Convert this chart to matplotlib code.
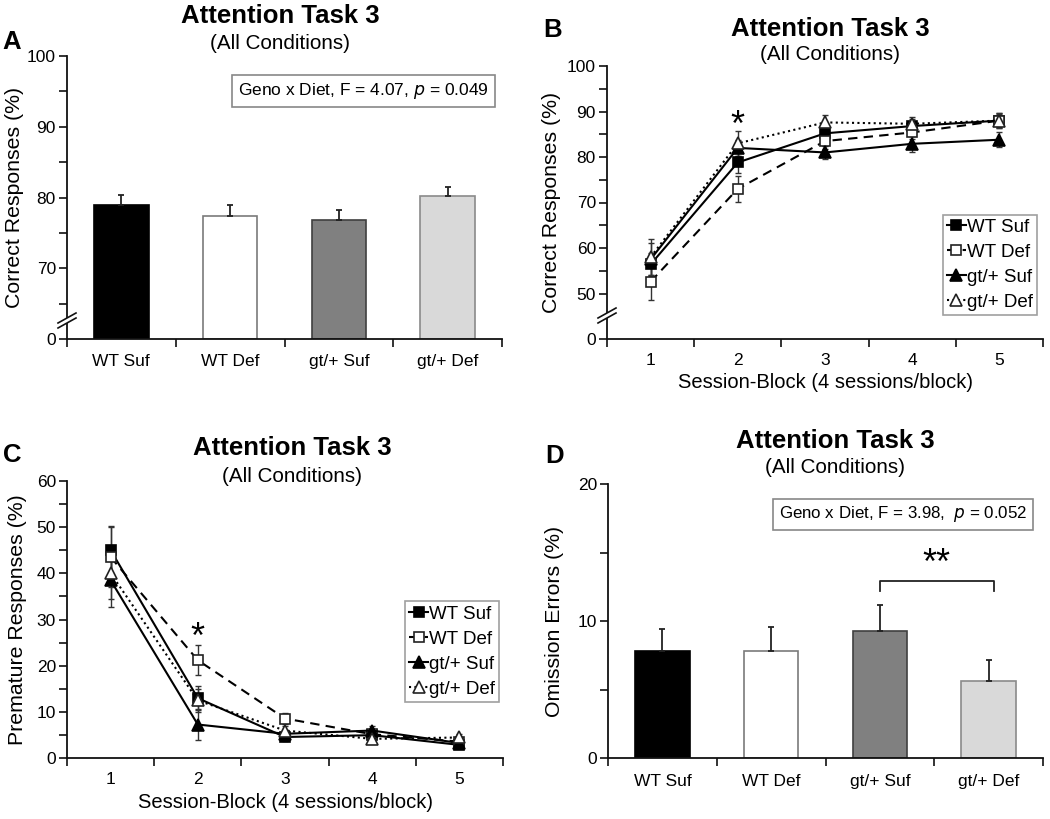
import numpy as np
import matplotlib
matplotlib.use("Agg")
import matplotlib.pyplot as plt
from matplotlib.ticker import FixedLocator, NullFormatter

plt.rcParams['font.family'] = ['Liberation Sans', 'DejaVu Sans']

# ---------------- data ----------------
groups = ["WT Suf", "WT Def", "gt/+ Suf", "gt/+ Def"]
blocks = [1, 2, 3, 4, 5]

# Panel A: correct responses (bars)
a_vals = [79.0, 77.4, 76.8, 80.2]
a_err = [1.4, 1.5, 1.5, 1.3]

# Panel B: correct responses by block
b_wt_suf = [56.4, 78.8, 85.2, 86.8, 88.0]
b_wt_def = [52.6, 73.0, 83.5, 85.4, 88.0]
b_gt_suf = [57.5, 82.0, 81.0, 82.9, 83.8]
b_gt_def = [58.0, 83.0, 87.6, 87.3, 88.0]
b_wt_suf_err = [2.5, 2.3, 1.5, 1.5, 1.5]
b_wt_def_err = [4.0, 2.8, 1.8, 1.5, 1.6]
b_gt_suf_err = [3.5, 1.8, 1.5, 1.7, 1.7]
b_gt_def_err = [4.0, 2.7, 1.6, 1.6, 1.7]

# Panel C: premature responses by block
c_wt_suf = [45.0, 13.0, 4.6, 5.0, 2.9]
c_wt_def = [43.5, 21.2, 8.6, 5.2, 3.6]
c_gt_suf = [38.5, 7.3, 5.3, 6.0, 3.3]
c_gt_def = [40.0, 12.5, 6.0, 4.2, 4.5]
c_wt_suf_err = [5.2, 2.6, 0.8, 0.8, 0.6]
c_wt_def_err = [6.5, 3.2, 1.2, 0.9, 0.7]
c_gt_suf_err = [5.8, 3.3, 0.9, 0.9, 0.6]
c_gt_def_err = [5.5, 2.5, 0.9, 0.8, 0.7]

# Panel D: omission errors (bars)
d_vals = [7.8, 7.85, 9.3, 5.6]
d_err = [1.6, 1.75, 1.85, 1.6]

bar_colors = ["#000000", "#ffffff", "#808080", "#d9d9d9"]
bar_edges = ["#000000", "#7a7a7a", "#404040", "#8a8a8a"]

W, H = 1050, 819
fig = plt.figure(figsize=(W / 100, H / 100), dpi=100)


def ax_at(left, top, right, bottom):
    return fig.add_axes([left / W, 1 - bottom / H, (right - left) / W, (bottom - top) / H])


def style_axes(ax):
    for s in ["top", "right"]:
        ax.spines[s].set_visible(False)
    for s in ["left", "bottom"]:
        ax.spines[s].set_linewidth(1.3)
        ax.spines[s].set_color("#111111")
    ax.tick_params(axis="both", which="both", direction="out", width=1.2, color="#111111")
    ax.tick_params(axis="y", which="major", length=6, labelsize=12.5, pad=2)
    ax.tick_params(axis="y", which="minor", length=6)
    ax.tick_params(axis="x", which="major", length=6, labelsize=12.5)


def break_marks(ax, yfrac, axw, axh):
    # two parallel diagonal slashes across the y spine
    dx1, dy1 = -9 / axw, -5 / axh
    dx2, dy2 = 9 / axw, 5 / axh
    off = 5 / axh
    ax.fill([dx1, dx2, dx2, dx1], [yfrac + dy1, yfrac + dy2, yfrac + dy2 + off, yfrac + dy1 + off],
            transform=ax.transAxes, color="white", clip_on=False, zorder=5, lw=0)
    for o in (0, off):
        ax.plot([dx1, dx2], [yfrac + dy1 + o, yfrac + dy2 + o], transform=ax.transAxes,
                color="#111111", lw=1.2, clip_on=False, zorder=6)


def titles(cx, y1, y2, letter, lx, ly):
    fig.text(cx / W, 1 - y1 / H, "Attention Task 3", ha="center", va="baseline",
             fontsize=18.5, fontweight="bold")
    fig.text(cx / W, 1 - y2 / H, "(All Conditions)", ha="center", va="baseline", fontsize=14.9)
    fig.text(lx / W, 1 - ly / H, letter, ha="left", va="baseline", fontsize=18.5, fontweight="bold")


def add_legend(ax, handles, anchor):
    leg = ax.legend(handles=handles, loc="lower right", bbox_to_anchor=anchor, borderaxespad=0,
                    fontsize=13.5, frameon=True, fancybox=False, handlelength=1.0,
                    handletextpad=0.05, borderpad=0.22, labelspacing=0.42)
    leg.get_frame().set_edgecolor("#888888")
    leg.get_frame().set_linewidth(1.2)
    return leg


# ---------------- Panel A ----------------
def fwdA(v):
    v = np.asarray(v, dtype=float)
    return np.where(v >= 62, v, 60 + v * (2 / 62))


def invA(u):
    u = np.asarray(u, dtype=float)
    return np.where(u >= 62, u, (u - 60) * 62 / 2)


axA = ax_at(67, 56, 502, 339)
style_axes(axA)
axA.set_yscale("function", functions=(fwdA, invA))
xA = np.arange(1, len(groups) + 1)
axA.bar(xA, a_vals, width=0.5, color=bar_colors, edgecolor=bar_edges, linewidth=1.2, zorder=2)
axA.errorbar(xA, a_vals, yerr=[np.zeros(len(a_err)), a_err], fmt="none", ecolor="#222222",
             elinewidth=1.3, capsize=2.5, capthick=1.3, zorder=3)
axA.set_xlim(0.5, 4.5)
axA.set_ylim(0, 100)
axA.yaxis.set_major_locator(FixedLocator([0, 70, 80, 90, 100]))
axA.yaxis.set_minor_locator(FixedLocator([65, 75, 85, 95]))
axA.yaxis.set_minor_formatter(NullFormatter())
axA.set_yticklabels(["0", "70", "80", "90", "100"])
axA.xaxis.set_major_locator(FixedLocator([0.5, 1.5, 2.5, 3.5, 4.5]))
axA.xaxis.set_major_formatter(NullFormatter())
axA.xaxis.set_minor_locator(FixedLocator(list(xA)))
axA.set_xticklabels(groups, minor=True)
axA.tick_params(axis="x", which="minor", length=0, labelsize=12.5, pad=11)
axA.set_ylabel("Correct Responses (%)", fontsize=15.3, labelpad=2)
axA.text(0.681, 0.877, "Geno x Diet, F = 4.07, $\\it{p}$ = 0.049", transform=axA.transAxes,
         ha="center", va="center", fontsize=12.5,
         bbox=dict(boxstyle="square,pad=0.35", fc="white", ec="#888888", lw=1.2))
break_marks(axA, (339 - 323) / (339 - 56), 435, 283)
titles(280, 23, 49, "A", 2, 49)

# ---------------- Panel B ----------------
def fwdB(v):
    v = np.asarray(v, dtype=float)
    return np.where(v >= 45, v, 40 + v * (5 / 45))


def invB(u):
    u = np.asarray(u, dtype=float)
    return np.where(u >= 45, u, (u - 40) * 45 / 5)


def line_panel(ax, series, errs):
    styles = [
        dict(marker="s", mfc="black", mec="black", ls="-", color="black", label=groups[0]),
        dict(marker="s", mfc="white", mec="#222222", ls=(0, (4.5, 3)), color="black", label=groups[1]),
        dict(marker="^", mfc="black", mec="black", ls="-", color="black", label=groups[2]),
        dict(marker="^", mfc="white", mec="#222222", ls=(0, (1, 1.6)), color="black", label=groups[3]),
    ]
    handles = []
    for ys, es, st in zip(series, errs, styles):
        ax.errorbar(blocks, ys, yerr=es, fmt="none", ecolor="#333333", elinewidth=1.0,
                    capsize=2, capthick=1.0, zorder=2)
    for ys, st in zip(series, styles):
        ms = 8.5 if st["marker"] == "^" else 7.5
        h, = ax.plot(blocks, ys, lw=1.5, ms=ms, mew=1.2, zorder=3, **st)
        handles.append(h)
    return handles


axB = ax_at(607, 66, 1043, 339)
style_axes(axB)
axB.set_yscale("function", functions=(fwdB, invB))
hB = line_panel(axB, [b_wt_suf, b_wt_def, b_gt_suf, b_gt_def],
                [b_wt_suf_err, b_wt_def_err, b_gt_suf_err, b_gt_def_err])
axB.set_xlim(0.5, 5.5)
axB.set_ylim(0, 100)
axB.yaxis.set_major_locator(FixedLocator([0, 50, 60, 70, 80, 90, 100]))
axB.yaxis.set_minor_locator(FixedLocator([55, 65, 75, 85, 95]))
axB.yaxis.set_minor_formatter(NullFormatter())
axB.set_yticklabels(["0", "50", "60", "70", "80", "90", "100"])
axB.xaxis.set_major_locator(FixedLocator([0.5, 1.5, 2.5, 3.5, 4.5, 5.5]))
axB.xaxis.set_major_formatter(NullFormatter())
axB.xaxis.set_minor_locator(FixedLocator(blocks))
axB.set_xticklabels([str(b) for b in blocks], minor=True)
axB.tick_params(axis="x", which="minor", length=0, labelsize=12.5, pad=10)
axB.set_xlabel("Session-Block (4 sessions/block)", fontsize=14.5, labelpad=4)
axB.set_ylabel("Correct Responses (%)", fontsize=15.3, labelpad=4)
axB.text(2, 86.8, "*", ha="center", va="center", fontsize=26)
add_legend(axB, hB, (0.986, 0.088))
break_marks(axB, (339 - 318) / (339 - 66), 436, 273)
titles(830, 36, 60, "B", 543, 37)

# ---------------- Panel C ----------------
axC = ax_at(67, 480.7, 503, 758.3)
style_axes(axC)
hC = line_panel(axC, [c_wt_suf, c_wt_def, c_gt_suf, c_gt_def],
                [c_wt_suf_err, c_wt_def_err, c_gt_suf_err, c_gt_def_err])
axC.set_xlim(0.5, 5.5)
axC.set_ylim(0, 60)
axC.yaxis.set_major_locator(FixedLocator([0, 10, 20, 30, 40, 50, 60]))
axC.yaxis.set_minor_locator(FixedLocator([5, 15, 25, 35, 45, 55]))
axC.yaxis.set_minor_formatter(NullFormatter())
axC.xaxis.set_major_locator(FixedLocator([0.5, 1.5, 2.5, 3.5, 4.5, 5.5]))
axC.xaxis.set_major_formatter(NullFormatter())
axC.xaxis.set_minor_locator(FixedLocator(blocks))
axC.set_xticklabels([str(b) for b in blocks], minor=True)
axC.tick_params(axis="x", which="minor", length=0, labelsize=12.5, pad=10)
axC.set_xlabel("Session-Block (4 sessions/block)", fontsize=14.5, labelpad=4)
axC.set_ylabel("Premature Responses (%)", fontsize=15.3, labelpad=7)
axC.text(2, 26.0, "*", ha="center", va="center", fontsize=26)
add_legend(axC, hC, (0.991, 0.204))
titles(292, 455, 482, "C", 3, 462)

# ---------------- Panel D ----------------
axD = ax_at(608, 484, 1043, 758.3)
style_axes(axD)
xD = np.arange(1, len(groups) + 1)
axD.bar(xD, d_vals, width=0.5, color=bar_colors, edgecolor=bar_edges, linewidth=1.2, zorder=2)
axD.errorbar(xD, d_vals, yerr=[np.zeros(len(d_err)), d_err], fmt="none", ecolor="#222222",
             elinewidth=1.3, capsize=2.5, capthick=1.3, zorder=3)
axD.set_xlim(0.5, 4.5)
axD.set_ylim(0, 20)
axD.yaxis.set_major_locator(FixedLocator([0, 10, 20]))
axD.yaxis.set_minor_locator(FixedLocator([5, 15]))
axD.yaxis.set_minor_formatter(NullFormatter())
axD.xaxis.set_major_locator(FixedLocator([0.5, 1.5, 2.5, 3.5, 4.5]))
axD.xaxis.set_major_formatter(NullFormatter())
axD.xaxis.set_minor_locator(FixedLocator(list(xD)))
axD.set_xticklabels(groups, minor=True)
axD.tick_params(axis="x", which="minor", length=0, labelsize=12.5, pad=11)
axD.set_ylabel("Omission Errors (%)", fontsize=15.3, labelpad=10)
axD.text(0.678, 0.889, "Geno x Diet, F = 3.98,  $\\it{p}$ = 0.052", transform=axD.transAxes,
         ha="center", va="center", fontsize=12.2,
         bbox=dict(boxstyle="square,pad=0.33", fc="white", ec="#888888", lw=1.2))
axD.plot([3, 3, 4.05, 4.05], [12.2, 12.95, 12.95, 12.2], color="#222222", lw=1.3)
axD.text(3.52, 14.1, "**", ha="center", va="center", fontsize=26)
titles(835, 448, 473, "D", 545, 463)

fig.savefig("out.png", dpi=100)
